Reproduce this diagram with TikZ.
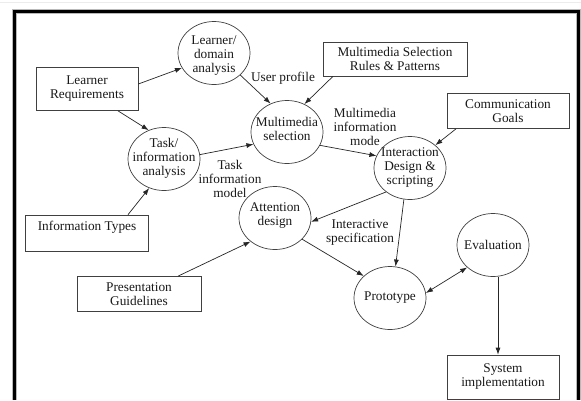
\documentclass[tikz,border=0pt]{standalone}
\usepackage{fontspec}
\setmainfont{Liberation Serif}
\usetikzlibrary{shapes.geometric,arrows.meta}
\begin{document}
\begin{tikzpicture}[x=1pt,y=-1pt,
  every node/.style={font=\fontsize{13.3}{14}\selectfont, text=black!90, align=center, inner sep=0pt},
  proc/.style={ellipse, draw=black!75, line width=0.7pt, minimum width=72pt, minimum height=63pt},
  store/.style={rectangle, draw=black!75, line width=0.7pt},
  flow/.style={draw=black!85, line width=0.7pt, -{Latex[length=7pt,width=5pt]}},
  bothflow/.style={draw=black!85, line width=0.7pt, {Latex[length=7pt,width=5pt]}-{Latex[length=7pt,width=5pt]}}]
\useasboundingbox (0,0) rectangle (581,400);
\fill[white] (0,0) rectangle (581,400);

% page edge and frame
\draw[gray!15, line width=1pt] (0,2) -- (581,2);
\draw[gray!55, line width=5pt] (14.7,400) -- (14.7,11) -- (578.3,11) -- (578.3,400);
\draw[black, line width=3pt] (14.7,400) -- (14.7,11) -- (578.3,11) -- (578.3,400);

% sources and sinks
\node[store, minimum width=102pt, minimum height=43pt] (lr) at (87,89) {Learner\\Requirements};
\node[store, minimum width=144pt, minimum height=34pt] (ru) at (395,59) {Multimedia Selection\\Rules \& Patterns};
\node[store, minimum width=122pt, minimum height=35pt] (cg) at (508,111) {Communication\\Goals};
\node[store, minimum width=123pt, minimum height=36pt] (it) at (87,233) {Information Types\\\mbox{}};
\node[store, minimum width=124pt, minimum height=35pt] (pg) at (139,294) {Presentation\\Guidelines};
\node[store, minimum width=112pt, minimum height=44pt] (si) at (503,377) {System\\implementation};

% processes
\node[proc, label={[yshift=-3pt]center:{Learner/\\domain\\analysis}}] (ld) at (214,53) {};
\node[proc, label={[yshift=1pt]center:{Task/\\information\\analysis}}] (ta) at (164,159) {};
\node[proc, label={[yshift=3pt]center:{Multimedia\\selection}}] (mm) at (287,132) {};
\node[proc, label={center:{Interaction\\Design \&\\scripting}}] (id) at (410,168) {};
\node[proc, label={[yshift=2pt]center:{Attention\\design}}] (at) at (275,218) {};
\node[proc, label={center:{Prototype}}] (pr) at (390,298) {};
\node[proc, label={center:{Evaluation}}] (ev) at (493,245) {};

% flow labels
\node (up) at (283,78) {User profile};
\node (mim) at (365,127) {Multimedia\\information\\mode};
\node (tim) at (230,179) {Task\\information\\model};
\node (isp) at (360,233) {Interactive\\specification};

% flows
\draw[flow] ([yshift=5pt]lr.east) -- (ld.205);
\draw[flow] ([xshift=31pt]lr.south) -- (ta.118);
\draw[flow] (ld.-40) -- (mm.120);
\draw[flow] (ta.7) -- (mm.200);
\draw[flow] ([xshift=41pt]it.north) -- (ta.243);
\draw[flow] ([xshift=-62pt]ru.south) -- (mm.58);
\draw[flow] (mm.-22) -- (id.160);
\draw[flow] ([xshift=-52pt]cg.south) -- (id.42);
\draw[flow] (id.225) -- (at.-6);
\draw[flow] (id.259) -- (pr.80);
\draw[flow] (at.-38) -- (pr.140);
\draw[flow] ([xshift=39pt]pg.north) -- (at.224);
\draw[bothflow] (pr.8) -- (ev.221);
\draw[flow] ([xshift=5pt]ev.south) -- ([xshift=-5pt]si.north);
\end{tikzpicture}
\end{document}
